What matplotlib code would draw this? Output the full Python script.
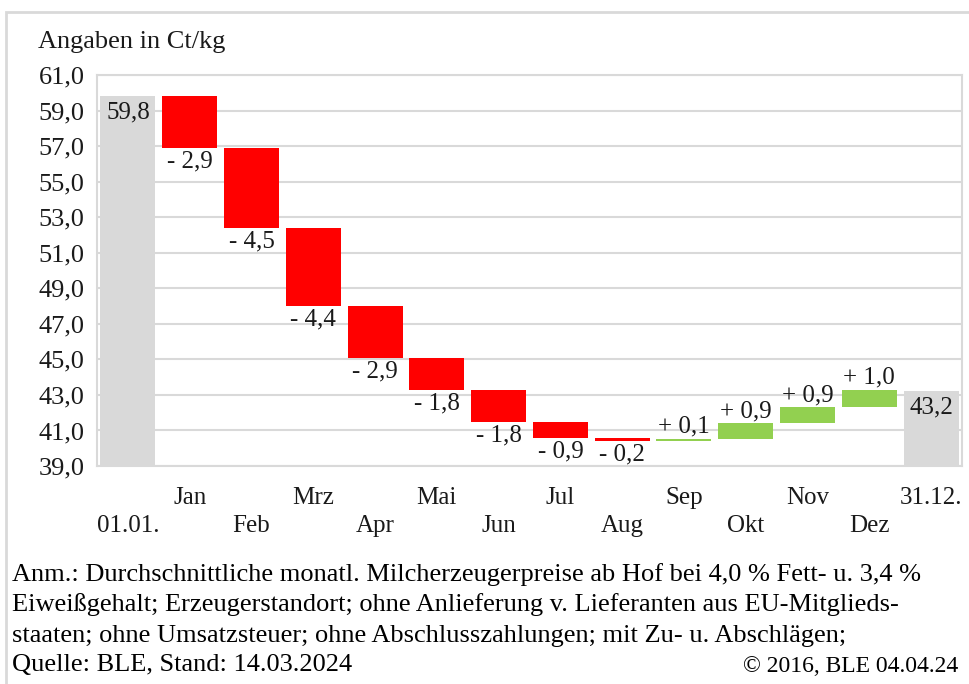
import matplotlib
matplotlib.use("Agg")
from matplotlib import pyplot as plt
from matplotlib.patches import Rectangle

plt.rcParams['font.family'] = ['Liberation Serif', 'DejaVu Serif']

# Data (Ct/kg)
labels = ['01.01.', 'Jan', 'Feb', 'Mrz', 'Apr', 'Mai', 'Jun',
          'Jul', 'Aug', 'Sep', 'Okt', 'Nov', 'Dez', '31.12.']
start_value = 59.8
end_value = 43.2
changes = [-2.9, -4.5, -4.4, -2.9, -1.8, -1.8, -0.9, -0.2, 0.1, 0.9, 0.9, 1.0]
yticks = [39, 41, 43, 45, 47, 49, 51, 53, 55, 57, 59, 61]

RED = '#FF0000'
GREEN = '#92D050'
GRAY = '#D9D9D9'
GRID = '#D9D9D9'
TXT = '#1a1a1a'
FS = 19

fig = plt.figure(figsize=(9.7, 6.84), dpi=100)
ax = fig.add_axes([97/970, 1-466/684, 865/970, 391/684])

ymin = yticks[0]
w = 0.89

# start bar
ax.bar(0, start_value - ymin, bottom=ymin, width=w, color=GRAY, zorder=2)
ax.annotate(f"{start_value:.1f}".replace('.', ','), (0, start_value),
            xytext=(0, -4), textcoords='offset points', ha='center', va='top',
            fontsize=FS - 1, color=TXT, zorder=4)

level = start_value
for i, c in enumerate(changes, start=1):
    new = level + c
    bottom = min(level, new)
    ax.bar(i, abs(c), bottom=bottom, width=w, color=RED if c < 0 else GREEN, zorder=2)
    txt = ("- " if c < 0 else "+ ") + f"{abs(c):.1f}".replace('.', ',')
    if c < 0:
        ax.annotate(txt, (i, bottom), xytext=(0, -2), textcoords='offset points',
                    ha='center', va='top', fontsize=FS - 1, color=TXT, zorder=4)
    else:
        ax.annotate(txt, (i, bottom + abs(c)), xytext=(0, 1), textcoords='offset points',
                    ha='center', va='bottom', fontsize=FS - 1, color=TXT, zorder=4)
    level = new

# end bar
n = len(labels) - 1
ax.bar(n, end_value - ymin, bottom=ymin, width=w, color=GRAY, zorder=2)
ax.annotate(f"{end_value:.1f}".replace('.', ','), (n, end_value),
            xytext=(0, -4), textcoords='offset points', ha='center', va='top',
            fontsize=FS - 1, color=TXT, zorder=4)

ax.set_xlim(-0.5, n + 0.5)
ax.set_ylim(yticks[0], yticks[-1])
ax.set_yticks(yticks)
ax.set_yticklabels([f"{t:.1f}".replace('.', ',') for t in yticks], fontsize=FS, color=TXT)
ax.yaxis.grid(True, color=GRID, linewidth=1.5, zorder=0)
ax.set_axisbelow(True)

ax.set_xticks(range(len(labels)))
ax.set_xticklabels(labels, fontsize=FS - 1, color=TXT)
for k, tick in enumerate(ax.xaxis.get_major_ticks()):
    tick.set_pad(15 if k % 2 == 1 else 35)
ax.tick_params(axis='both', length=0)
ax.tick_params(axis='y', pad=9)

for s in ax.spines.values():
    s.set_color(GRID)
    s.set_linewidth(1.5)

# outer frame
fig.patches.append(Rectangle((6/970, -0.01), 1.0, 1 - 12/684 + 0.01, transform=fig.transFigure,
                             fill=False, edgecolor=GRAY, linewidth=2))

fig.text(38/970, 1 - 42/684, "Angaben in Ct/kg", fontsize=FS, color=TXT, va='center')

notes = [
    "Anm.: Durchschnittliche monatl. Milcherzeugerpreise ab Hof bei 4,0 % Fett- u. 3,4 %",
    "Eiweißgehalt; Erzeugerstandort; ohne Anlieferung v. Lieferanten aus EU-Mitglieds-",
    "staaten; ohne Umsatzsteuer; ohne Abschlusszahlungen; mit Zu- u. Abschlägen;",
    "Quelle: BLE, Stand: 14.03.2024",
]
note_y = [575, 605, 636, 665]
for t, y in zip(notes, note_y):
    fig.text(12/970, 1 - y/684, t, fontsize=19, color='black', va='center')
fig.text(958/970, 1 - 667/684, "© 2016, BLE 04.04.24", fontsize=17, color='black',
         va='center', ha='right')

fig.savefig('out.png', dpi=100)
